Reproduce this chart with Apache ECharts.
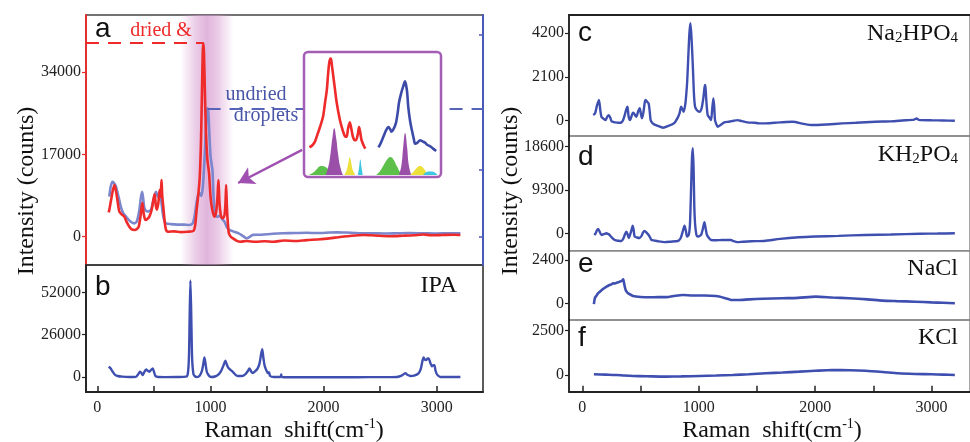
<!DOCTYPE html>
<html>
<head>
<meta charset="utf-8">
<script src="https://cdn.jsdelivr.net/npm/echarts@6/dist/echarts.min.js"></script>
<style>
  html, body { margin: 0; padding: 0; background: #fff; }
  #chart { width: 970px; height: 442px; }
</style>
</head>
<body>
<div id="chart"></div>
<script>
// ---- data: [Raman shift (cm-1), counts] ----
const driedA = [[100,5000],[106,5500],[125,8000],[150,10660],[160,10000],[175,8000],[195,5150],[220,4500],[239,4130],[260,3000],[283,2060],[305,1500],[330,1380],[350,1600],[366,2060],[382,4200],[398,7000],[410,4800],[425,3440],[440,3600],[460,4130],[480,5500],[495,7500],[507,8800],[517,6500],[527,5600],[540,7000],[551,9630],[557,8200],[563,9500],[568,11700],[574,8500],[586,5500],[596,3000],[608,1380],[625,1030],[680,1100],[740,950],[800,1030],[850,1200],[866,2500],[878,5500],[890,8000],[905,12000],[917,20000],[927,32000],[933,38500],[938,39900],[943,38000],[950,31000],[960,22000],[973,16000],[988,13080],[1002,8000],[1017,5500],[1035,4130],[1050,5000],[1062,8000],[1071,11700],[1080,7000],[1095,4130],[1110,3800],[1125,4500],[1133,7000],[1139,10660],[1146,6000],[1155,2500],[1163,700],[1180,0],[1198,-330],[1230,-800],[1263,-1030],[1320,-900],[1400,-1050],[1480,-950],[1557,-1030],[1650,-800],[1750,-900],[1850,-700],[1970,-540],[2100,-200],[2250,200],[2356,350],[2450,250],[2590,100],[2700,200],[2800,300],[2883,450],[2950,300],[3050,350],[3150,400],[3210,350]];
const undriedA = [[106,8250],[120,10500],[136,11350],[150,11000],[166,10300],[190,8000],[210,6000],[230,4800],[254,4130],[290,3200],[327,2750],[350,3200],[372,5500],[385,8000],[396,9280],[405,8000],[415,6000],[425,5500],[445,5200],[460,5300],[475,5500],[495,7500],[510,8800],[519,9280],[535,8200],[548,9000],[555,9280],[565,7500],[575,5500],[584,4130],[595,3200],[608,2750],[650,2600],[700,2500],[760,2500],[810,2400],[843,2750],[862,4500],[877,6890],[892,8600],[907,8940],[920,8400],[932,10000],[942,13500],[952,18000],[961,23000],[969,26000],[975,26500],[982,25500],[991,21000],[1000,17000],[1010,15000],[1018,13760],[1027,8500],[1037,5500],[1050,4300],[1065,4130],[1080,4300],[1095,4000],[1110,3500],[1124,3100],[1145,2000],[1168,1380],[1200,1100],[1250,700],[1290,100],[1322,-330],[1350,0],[1375,370],[1450,400],[1550,600],[1646,700],[1750,750],[1850,800],[1950,750],[2050,850],[2119,900],[2200,850],[2300,750],[2434,700],[2550,650],[2650,700],[2750,750],[2883,700],[3000,650],[3100,700],[3210,700]];
const ipaB = [[101,6300],[120,5000],[136,3240],[155,1500],[180,610],[220,200],[280,0],[342,100],[360,1500],[378,3240],[390,2400],[401,1200],[415,3000],[431,4700],[445,3800],[460,3240],[475,4300],[490,5300],[500,3500],[514,600],[540,0],[600,-100],[700,0],[785,200],[800,2000],[810,12000],[816,35000],[823,59300],[830,40000],[838,12000],[850,1800],[865,300],[880,0],[905,800],[925,3800],[937,8000],[947,12050],[957,8000],[968,3200],[985,1000],[1006,0],[1040,300],[1070,1500],[1095,3800],[1115,7000],[1133,9990],[1148,7000],[1162,5300],[1180,4200],[1198,3200],[1220,1500],[1242,600],[1280,600],[1310,1800],[1330,3500],[1345,5300],[1360,3400],[1374,2400],[1395,3500],[1418,5300],[1435,8500],[1448,14000],[1458,17130],[1468,12000],[1479,7100],[1495,4000],[1508,2400],[1518,3000],[1528,600],[1560,0],[1620,0],[1626,1600],[1632,0],[1800,-200],[2000,-200],[2200,-150],[2400,-100],[2600,-100],[2650,0],[2690,800],[2723,2260],[2745,1200],[2767,600],[2800,800],[2840,2260],[2860,5000],[2875,10000],[2885,12050],[2897,10500],[2909,10400],[2920,11400],[2929,11400],[2945,8500],[2959,6500],[2970,7300],[2980,7300],[2990,4000],[3003,1600],[3033,0],[3100,0],[3210,0]];
const na2hpo4C = [[94,274],[110,350],[125,700],[143,995],[155,500],[165,180],[182,100],[200,30],[215,200],[228,270],[240,150],[251,-20],[265,-60],[280,-80],[310,-100],[337,-80],[352,50],[365,274],[378,550],[388,673],[398,200],[410,30],[425,250],[435,380],[445,350],[455,250],[465,190],[480,450],[493,596],[503,350],[513,110],[525,400],[537,900],[544,995],[558,900],[570,830],[580,400],[587,30],[600,-100],[616,-175],[650,-250],[692,-335],[740,-250],[792,-100],[820,150],[835,350],[849,673],[860,550],[870,430],[885,800],[895,1400],[901,1875],[910,3000],[920,4200],[929,4680],[938,4000],[949,2700],[960,1200],[969,670],[985,500],[1007,430],[1025,600],[1040,1100],[1050,1600],[1057,1715],[1065,1000],[1077,270],[1092,150],[1106,30],[1115,500],[1126,1075],[1133,700],[1140,30],[1150,-150],[1162,-290],[1190,-200],[1220,-80],[1260,-50],[1300,0],[1333,30],[1370,-20],[1419,-80],[1480,-100],[1519,-130],[1562,-130],[1650,-100],[1700,-80],[1806,-50],[1900,-150],[1974,-210],[2100,-180],[2231,-130],[2350,-100],[2516,-50],[2650,-30],[2750,10],[2850,50],[2872,110],[2890,40],[3000,20],[3100,10],[3200,0]];
const kh2po4D = [[103,-365],[115,0],[125,600],[137,920],[150,300],[165,-365],[185,-200],[208,0],[218,-100],[228,-200],[250,-800],[280,-1440],[310,-1600],[337,-1650],[355,-1000],[365,-300],[379,345],[390,-300],[399,-1000],[412,-200],[425,900],[433,1640],[442,600],[450,-700],[470,-900],[493,-1000],[510,-500],[522,200],[536,500],[550,200],[570,-365],[585,-1000],[593,-1400],[650,-1700],[707,-1900],[760,-1800],[821,-1650],[838,-1300],[850,-700],[865,600],[878,1640],[890,500],[900,-700],[915,-300],[925,2000],[935,10000],[942,16000],[949,18260],[956,14000],[962,6000],[969,2000],[980,-300],[992,-700],[1005,-600],[1020,-365],[1035,900],[1049,2360],[1060,1000],[1071,-365],[1088,-1000],[1106,-1440],[1150,-1500],[1200,-1450],[1277,-1440],[1300,-1700],[1333,-1900],[1380,-1800],[1450,-1700],[1562,-1650],[1700,-1200],[1861,-860],[2000,-700],[2200,-550],[2431,-365],[2650,-250],[2900,-100],[3050,-50],[3200,0]];
const naclE = [[100,-40],[108,290],[120,400],[135,550],[151,640],[170,750],[190,850],[208,920],[230,1000],[250,1050],[265,1108],[280,1100],[300,1150],[322,1200],[340,1250],[351,1330],[358,1150],[365,920],[375,700],[393,554],[415,480],[436,400],[500,350],[579,332],[650,340],[721,340],[800,420],[864,460],[950,430],[1050,430],[1149,400],[1220,300],[1270,200],[1291,185],[1340,180],[1434,220],[1550,250],[1718,280],[1850,300],[2006,370],[2150,320],[2291,280],[2450,220],[2576,150],[2700,120],[2858,90],[3000,50],[3100,30],[3200,0]];
const kclF = [[100,40],[200,20],[294,0],[360,-30],[436,-55],[550,-70],[721,-90],[850,-80],[1006,-55],[1150,-30],[1291,0],[1430,40],[1576,95],[1720,140],[1861,190],[2000,240],[2145,280],[2300,270],[2431,240],[2580,170],[2716,95],[2860,60],[3000,40],[3100,20],[3200,0]];

// inset (zoomed peak region, arbitrary units 0-100)
const insetDried = [[4,23],[9,25],[13,28],[17,34],[21,40],[26,49],[29,60],[32,71],[34,84],[36,94],[38,97],[39,96],[41,88],[44,76],[48,60],[53,46],[56,40],[59,35],[62,32],[64,32],[66,38],[69,44],[71,40],[74,32],[77,29],[79,29],[82,34],[84,40],[86,35],[88,29],[91,25],[94,22]];
const insetUndried = [[4,23],[8,27],[12,32],[16,37],[20,40],[23,38],[25,36],[28,38],[32,43],[35,52],[37,60],[40,67],[44,74],[47,78],[48,78],[50,70],[52,57],[55,45],[58,37],[61,30],[63,26],[67,27],[71,29],[75,28],[79,27],[83,25],[87,24],[92,22],[97,20]];
const fitDried = {
  green:  [[3,0],[10,2],[16,5],[20,7],[24,7.5],[28,7],[34,5],[40,2.5],[48,0]],
  purple: [[30,0],[34,6],[38,18],[41,31],[44,39],[47,31],[50,18],[54,6],[58,0]],
  yellow: [[60,0],[64,4],[67,11],[69,15],[71,11],[74,4],[78,0]],
  cyan:   [[82,0],[84,6],[86,13],[88,6],[90,0]]
};
const fitUndried = {
  green:  [[0,0],[6,3],[12,8],[18,13],[23,15],[28,13],[34,7],[40,2],[48,0]],
  purple: [[37,0],[41,8],[44,24],[47,35],[50,24],[53,8],[57,0]],
  yellow: [[55,0],[61,3],[66,6],[71,7.5],[76,6],[82,2],[88,0]],
  cyan:   [[76,0],[80,2],[85,3],[90,3],[95,2],[99,0]]
};

const xTicks = [0, 500, 1000, 1500, 2000, 2500, 3000];
const xLabels = [0, 1000, 2000, 3000];
const ticksA = [0, 17000, 34000];
const ticksARight = [0, 13760, 26490, 41610];
const ticksB = [0, 26000, 52000];
const ticksC = [0, 2100, 4200];
const ticksD = [0, 9300, 18600];
const ticksE = [0, 2400];
const ticksF = [0, 2500];

const RED = "#ee2a2a"
const BLUE_A = "#7b86cc"
const BLUE = "#3f4fb0"
const SERIF = "Liberation Serif"
const fitColors = { green: "#5cc04a", purple: "#9a4fa8", yellow: "#ece03a", cyan: "#3cc6e2" }

const chart = echarts.init(document.getElementById("chart"))

function yAx(grid, min, max, ticks, color) {
  return {
    type: "value", gridIndex: grid, min: min, max: max,
    splitLine: { show: false },
    axisLine: { show: true, onZero: false, lineStyle: { color: color || "#222", width: 1.8 } },
    axisTick: { show: true, inside: false, length: 4, customValues: ticks, lineStyle: { color: color || "#222", width: 1.2 } },
    axisLabel: { customValues: ticks, margin: 5, color: "#222", fontFamily: SERIF, fontSize: 16, formatter: (v) => String(v) },
  }
}
function xHidden(grid, min, max) {
  return { type: "value", gridIndex: grid, min: min, max: max, show: false, splitLine: { show: false } }
}
function xBottom(grid, min, max) {
  return {
    type: "value", gridIndex: grid, min: min, max: max,
    splitLine: { show: false },
    axisLine: { show: true, onZero: false, lineStyle: { color: "#222", width: 1.8 } },
    axisTick: { show: true, inside: true, length: 6, customValues: xTicks, lineStyle: { color: "#222", width: 1.5 } },
    axisLabel: { customValues: xLabels, margin: 8, color: "#222", fontFamily: SERIF, fontSize: 16, formatter: (v) => String(v) },
  }
}
function line(name, data, xi, yi, color, width, extra) {
  return Object.assign({
    name: name, type: "line", data: data, xAxisIndex: xi, yAxisIndex: yi,
    showSymbol: false, smooth: 0.25, silent: true,
    lineStyle: { color: color, width: width },
  }, extra || {})
}
function fit(data, xi, yi, color) {
  return {
    type: "line", data: data, xAxisIndex: xi, yAxisIndex: yi, showSymbol: false, smooth: 0.5,
    silent: true, z: 20, lineStyle: { width: 0 }, areaStyle: { color: color, opacity: 1 },
  }
}

const L = [-100, 3410]
const R = [-114, 3330]

const option = {
  animation: false,
  grid: [
    { left: 86, right: 487, top: 15, height: 250, show: true, borderColor: "#444", borderWidth: 1.5 },   // a
    { left: 86, right: 487, top: 265, height: 127, show: true, borderColor: "#333", borderWidth: 1.6 },  // b
    { left: 569, right: -2, top: 15, height: 121, show: true, borderColor: "#8a8a8a", borderWidth: 1.5 }, // c
    { left: 569, right: -2, top: 136, height: 114.7, show: true, borderColor: "#8a8a8a", borderWidth: 1.5 }, // d
    { left: 569, right: -2, top: 250.7, height: 69.3, show: true, borderColor: "#8a8a8a", borderWidth: 1.5 }, // e
    { left: 569, right: -2, top: 320, height: 71.7, show: true, borderColor: "#8a8a8a", borderWidth: 1.5 }, // f
    { left: 307, width: 62, top: 55, height: 120 }, // inset dried
    { left: 376, width: 62, top: 55, height: 120 }, // inset undried
  ],
  xAxis: [
    xHidden(0, L[0], L[1]),
    xBottom(1, L[0], L[1]),
    xHidden(2, R[0], R[1]),
    { type: "value", gridIndex: 2, position: "top", min: R[0], max: R[1], splitLine: { show: false },
      axisLine: { show: true, onZero: false, lineStyle: { color: "#222", width: 1.8 } }, axisTick: { show: false }, axisLabel: { show: false } },
    xHidden(3, R[0], R[1]),
    xHidden(4, R[0], R[1]),
    xBottom(5, R[0], R[1]),
    xHidden(6, 0, 100),
    xHidden(7, 0, 100),
  ],
  yAxis: [
    yAx(0, -5840, 45740, ticksA, RED),
    { type: "value", gridIndex: 0, position: "right", min: -5840, max: 45740, splitLine: { show: false },
      axisLine: { show: true, onZero: false, lineStyle: { color: "#4a58b8", width: 2 } },
      axisTick: { show: true, inside: true, length: 4, customValues: ticksARight, lineStyle: { color: "#4a58b8", width: 1.5 } },
      axisLabel: { show: false } },
    yAx(1, -9210, 68760, ticksB),
    yAx(2, -735, 5079, ticksC),
    yAx(3, -3737, 20900, ticksD),
    yAx(4, -925, 2914, ticksE),
    yAx(5, -942, 3104, ticksF),
    { type: "value", gridIndex: 6, min: 0, max: 100, show: false, splitLine: { show: false } },
    { type: "value", gridIndex: 7, min: 0, max: 100, show: false, splitLine: { show: false } },
  ],
  series: [
    line("undried droplets", undriedA, 0, 0, BLUE_A, 2.6, {
      markArea: {
        silent: true,
        itemStyle: {
          color: { type: "linear", x: 0, y: 0, x2: 1, y2: 0, colorStops: [
            { offset: 0, color: "rgba(214,150,206,0)" },
            { offset: 0.3, color: "rgba(214,150,206,0.5)" },
            { offset: 0.5, color: "rgba(205,135,200,0.62)" },
            { offset: 0.7, color: "rgba(214,150,206,0.5)" },
            { offset: 1, color: "rgba(214,150,206,0)" },
          ] },
        },
        data: [[{ xAxis: 735 }, { xAxis: 1204 }]],
      },
      markLine: {
        silent: true, symbol: "none", label: { show: false },
        lineStyle: { color: "#5563b8", width: 2, type: [13, 9] },
        data: [[{ coord: [975, 26490] }, { coord: [3410, 26490] }]],
      },
    }),
    line("dried", driedA, 0, 0, RED, 2.6, {
      markLine: {
        silent: true, label: { show: false },
        data: [
          [{ coord: [-100, 40100], symbol: "none", lineStyle: { color: RED, width: 2, type: [13, 9] } },
           { coord: [938, 40100], symbol: "none" }],
          [{ coord: [1811, 17890], symbol: "none", lineStyle: { color: "#a050b0", width: 2.5, type: "solid" } },
           { coord: [1245, 11080], symbol: "arrow", symbolSize: [14, 16] }],
        ],
      },
    }),
    line("IPA", ipaB, 1, 2, BLUE, 2.4),
    line("Na2HPO4", na2hpo4C, 2, 3, BLUE, 2.4),
    line("KH2PO4", kh2po4D, 4, 4, BLUE, 2.4),
    line("NaCl", naclE, 5, 5, BLUE, 2.6),
    line("KCl", kclF, 6, 6, BLUE, 2.6),
    // inset fits
    fit(fitDried.green, 7, 7, fitColors.green),
    fit(fitDried.purple, 7, 7, fitColors.purple),
    fit(fitDried.yellow, 7, 7, fitColors.yellow),
    fit(fitDried.cyan, 7, 7, fitColors.cyan),
    fit(fitUndried.green, 8, 8, fitColors.green),
    fit(fitUndried.purple, 8, 8, fitColors.purple),
    fit(fitUndried.yellow, 8, 8, fitColors.yellow),
    fit(fitUndried.cyan, 8, 8, fitColors.cyan),
    line("inset dried", insetDried, 7, 7, RED, 2.6, { z: 21, smooth: 0.3 }),
    line("inset undried", insetUndried, 8, 8, "#3c4aa8", 2.6, { z: 21, smooth: 0.3 }),
  ],
  graphic: [
    { type: "rect", z: 10, shape: { x: 304, y: 52, width: 137, height: 125, r: 4 },
      style: { fill: "#fff", stroke: "#a45db4", lineWidth: 2.5 } },
    // panel letters
    { type: "text", z: 30, x: 95, y: 29, style: { text: "a", font: "28px Liberation Sans", fill: "#111", verticalAlign: "middle" } },
    { type: "text", z: 30, x: 95, y: 287, style: { text: "b", font: "28px Liberation Sans", fill: "#111", verticalAlign: "middle" } },
    { type: "text", z: 30, x: 578, y: 33, style: { text: "c", font: "28px Liberation Sans", fill: "#111", verticalAlign: "middle" } },
    { type: "text", z: 30, x: 578, y: 157, style: { text: "d", font: "28px Liberation Sans", fill: "#111", verticalAlign: "middle" } },
    { type: "text", z: 30, x: 578, y: 264, style: { text: "e", font: "28px Liberation Sans", fill: "#111", verticalAlign: "middle" } },
    { type: "text", z: 30, x: 578, y: 338, style: { text: "f", font: "28px Liberation Sans", fill: "#111", verticalAlign: "middle" } },
    // sample names
    { type: "text", z: 30, x: 457, y: 286, style: { text: "IPA", font: "24px Liberation Serif", fill: "#111", align: "right", verticalAlign: "middle" } },
    { type: "text", z: 30, x: 958, y: 33, style: { text: "{n|Na}{s|2}{n|HPO}{s|4}", align: "right", verticalAlign: "middle",
      rich: { n: { fontFamily: SERIF, fontSize: 24, fill: "#111", verticalAlign: "bottom", lineHeight: 26 }, s: { fontFamily: SERIF, fontSize: 15, fill: "#111", verticalAlign: "bottom", lineHeight: 22 } } } },
    { type: "text", z: 30, x: 958, y: 154, style: { text: "{n|KH}{s|2}{n|PO}{s|4}", align: "right", verticalAlign: "middle",
      rich: { n: { fontFamily: SERIF, fontSize: 24, fill: "#111", verticalAlign: "bottom", lineHeight: 26 }, s: { fontFamily: SERIF, fontSize: 15, fill: "#111", verticalAlign: "bottom", lineHeight: 22 } } } },
    { type: "text", z: 30, x: 958, y: 269, style: { text: "NaCl", font: "24px Liberation Serif", fill: "#111", align: "right", verticalAlign: "middle" } },
    { type: "text", z: 30, x: 958, y: 338, style: { text: "KCl", font: "24px Liberation Serif", fill: "#111", align: "right", verticalAlign: "middle" } },
    // annotations
    { type: "text", z: 30, x: 161, y: 31, style: { text: "dried &", font: "20px Liberation Serif", fill: RED, align: "center", verticalAlign: "middle" } },
    { type: "text", z: 30, x: 256, y: 95, style: { text: "undried", font: "20px Liberation Serif", fill: "#4a57a8", align: "center", verticalAlign: "middle" } },
    { type: "text", z: 30, x: 266, y: 116, style: { text: "droplets", font: "20px Liberation Serif", fill: "#4a57a8", align: "center", verticalAlign: "middle" } },
    // axis titles
    { type: "text", z: 30, x: 27, y: 191, rotation: Math.PI / 2, style: { text: "Intensity (counts)", font: "24px Liberation Serif", fill: "#111", align: "center", verticalAlign: "middle" } },
    { type: "text", z: 30, x: 511, y: 191, rotation: Math.PI / 2, style: { text: "Intensity (counts)", font: "24px Liberation Serif", fill: "#111", align: "center", verticalAlign: "middle" } },
    { type: "text", z: 30, x: 294, y: 430, style: { text: "{t|Raman  shift(cm}{s|-1}{t|)}", align: "center", verticalAlign: "middle",
      rich: { t: { fontFamily: SERIF, fontSize: 24, fill: "#111", verticalAlign: "bottom", lineHeight: 26 }, s: { fontFamily: SERIF, fontSize: 14, fill: "#111", verticalAlign: "top", lineHeight: 26 } } } },
    { type: "text", z: 30, x: 772, y: 430, style: { text: "{t|Raman  shift(cm}{s|-1}{t|)}", align: "center", verticalAlign: "middle",
      rich: { t: { fontFamily: SERIF, fontSize: 24, fill: "#111", verticalAlign: "bottom", lineHeight: 26 }, s: { fontFamily: SERIF, fontSize: 14, fill: "#111", verticalAlign: "top", lineHeight: 26 } } } },
  ],
}

chart.setOption(option)
window.addEventListener("resize", () => { chart.resize() }, { passive: true })
</script>
</body>
</html>
